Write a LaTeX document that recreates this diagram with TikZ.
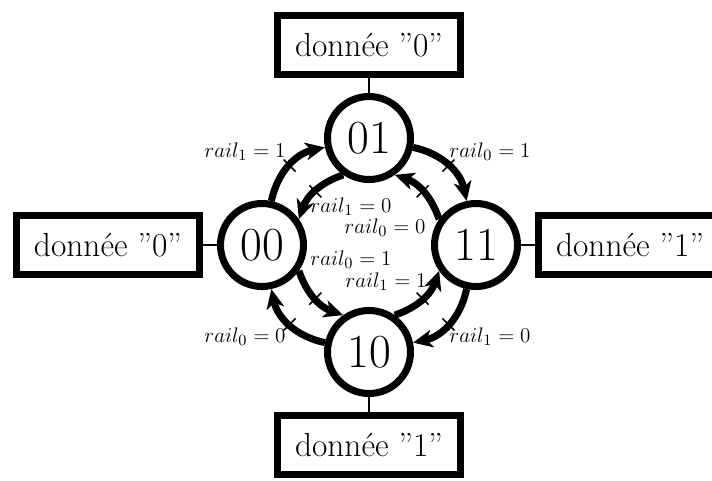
\documentclass[tikz,border=0pt]{standalone}
\usepackage{amsmath}
\usepackage{tikz}
\usetikzlibrary{positioning,arrows.meta,decorations.markings}

\newcommand{\qd}{\textquotedblright}

\begin{document}
\begin{tikzpicture}
        \tikzstyle{every node}+=[inner sep=0pt]
        \tikzstyle{etat}=[draw=black,circle,line width=4pt,minimum size=1.66cm,font=\fontsize{27}{30}\selectfont]
        \tikzstyle{donnee}=[draw=black,rectangle,line width=4pt,minimum width=3.66cm,minimum height=1.18cm,font=\fontsize{19}{22}\selectfont]
        \tikzstyle{lien}=[black,line width=0.8pt]
        \tikzstyle{trans}=[black,line width=4pt,-{Stealth[length=11pt,width=10pt,inset=3pt]},
            postaction={decorate},
            decoration={markings,mark=at position 0.5 with {\draw[line width=0.9pt,-] (0,-0.17) -- (0,0.17);}}]
        \tikzstyle{etiq}=[font=\fontsize{12.5}{14}\selectfont]
        \useasboundingbox (-7.38,-4.70) rectangle (6.86,4.90);
        % etats
        \node [etat] (n00) at (-2.14,0) {00};
        \node [etat] (n01) at (0,2.14) {01};
        \node [etat] (n11) at (2.14,0) {11};
        \node [etat] (n10) at (0,-2.14) {10};
        % donnees
        \node [donnee,above=0.3cm of n01] (d01) {donn\'ee \qd0\qd};
        \node [donnee,left=0.28cm of n00] (d00) {donn\'ee \qd0\qd};
        \node [donnee,right=0.28cm of n11] (d11) {donn\'ee \qd1\qd};
        \node [donnee,below=0.3cm of n10] (d10) {donn\'ee \qd1\qd};
        \draw [lien] (d01) -- (n01);
        \draw [lien] (d00) -- (n00);
        \draw [lien] (d11) -- (n11);
        \draw [lien] (d10) -- (n10);
        % transitions exterieures
        \draw [trans] (n00.78) to [out=78,in=192] (n01.192);
        \draw [trans] (n01.-12) to [out=-12,in=102] (n11.102);
        \draw [trans] (n11.-102) to [out=-102,in=12] (n10.12);
        \draw [trans] (n10.168) to [out=168,in=-78] (n00.-78);
        % transitions interieures
        \draw [trans] (n01.235) to [out=199,in=71] (n00.35);
        \draw [trans] (n11.145) to [out=109,in=-19] (n01.-55);
        \draw [trans] (n10.55) to [out=19,in=-109] (n11.-145);
        \draw [trans] (n00.-35) to [out=-71,in=161] (n10.125);
        % etiquettes
        \node [etiq] (e1) at (-2.48,1.86) {$rail_1=1$};
        \node [etiq] (e2) at (2.42,1.86) {$rail_0=1$};
        \node [etiq] (e3) at (2.42,-1.84) {$rail_1=0$};
        \node [etiq] (e4) at (-2.48,-1.84) {$rail_0=0$};
        \node [etiq] (e5) at (-0.36,0.76) {$rail_1=0$};
        \node [etiq] (e6) at (0.32,0.34) {$rail_0=0$};
        \node [etiq] (e7) at (-0.36,-0.30) {$rail_0=1$};
        \node [etiq] (e8) at (0.34,-0.74) {$rail_1=1$};
    \end{tikzpicture}
\end{document}
